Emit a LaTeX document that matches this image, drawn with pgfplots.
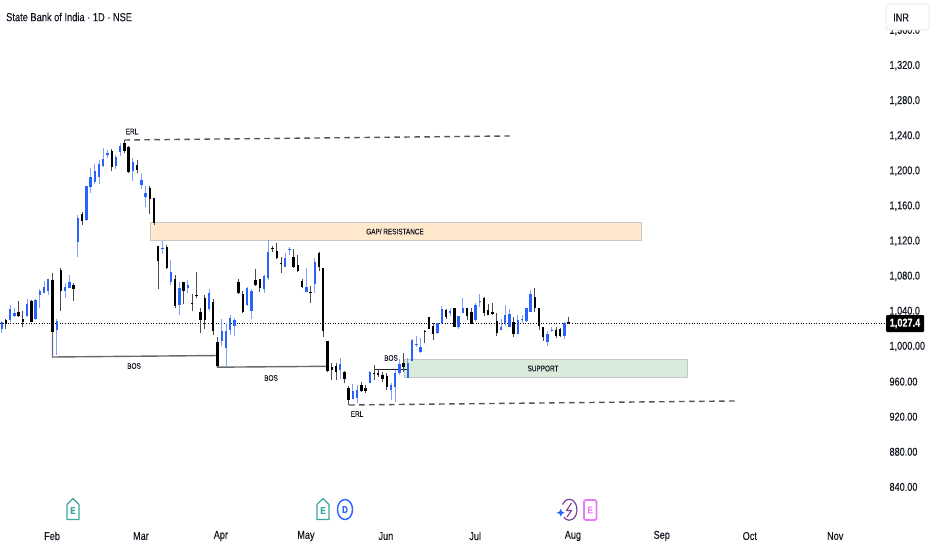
\documentclass[border=0pt]{standalone}
\usepackage{pgfplots}
\usepackage{pgfplotstable}
\usepackage{fontspec}
\pgfplotsset{compat=1.18}
\setmainfont[FakeStretch=0.8,FakeBold=0.25]{Liberation Sans}
\definecolor{tvblue}{HTML}{2962FF}
\definecolor{tvwick}{HTML}{7FA0FF}
\definecolor{tvgrey}{HTML}{555555}
\definecolor{tvbos}{HTML}{6A6A6A}
\definecolor{tvtext}{HTML}{131722}
\definecolor{gapfill}{HTML}{FFE8CB}
\definecolor{supfill}{HTML}{D9EBDB}
\pgfplotstableread{
i o h l c
0 1021 1030 1016 1028
2 1031 1048 1029 1043
3 1035 1044 1034 1039
6 1035 1055 1034 1049
8 1032 1055 1031 1054
9 1059 1066 1044 1064
10 1062 1075 1061 1068
11 1064 1078 1059 1078
13 1019 1032 991 1030
15 1064 1073 1056 1068
16 1067 1082 1067 1074
18 1120 1150.5 1102 1147.5
20 1145 1184 1144 1184
21 1182 1204 1176 1193.4
22 1188.5 1208 1186 1200.7
23 1193.4 1213 1186 1208.6
24 1206 1226.5 1205.6 1214
25 1218.5 1224.6 1215.9 1220.8
27 1206.7 1219 1203 1216
28 1222 1232 1218 1229
31 1200.7 1215.9 1189 1210.5
33 1184.7 1198 1180 1190
34 1171.4 1184 1159 1175
38 1112 1121 1105.6 1112.9
40 1073.7 1099 1070.7 1086
42 1047.9 1073.7 1036.9 1067.7
44 1067.3 1076.4 1062 1070.7
49 1043 1066 1041.4 1061
52 1007.2 1031.6 1001 1018.3
53 999.3 1027 978.7 1018.3
54 1019.4 1036.5 1013.7 1032.7
55 1024.3 1033.5 1013 1030.8
58 1047.9 1068.8 1046.8 1067.7
59 1041.4 1066 1031.6 1064.2
62 1066 1082 1061 1081.3
63 1078.3 1122 1076.4 1108
67 1091.6 1106.8 1091.6 1101
68 1111 1114.4 1105 1111.7
72 1063.1 1089.7 1062.3 1068
74 1071.8 1101 1062 1096.5
80 973.8 987.9 963.5 980.6
83 940.7 957.8 940.4 949.9
84 941.5 956.7 936.6 951
87 959.4 973 958.6 971.1
92 951 958.6 939.6 956.7
93 954 973.8 937.7 970
94 970 986 968 980.6
96 965 987 965 982
97 984.4 1008.8 984 1008
98 1002.3 1012.6 1000.4 1003.4
99 994 1009.9 993.6 1000.4
103 1015.6 1027 1014.5 1027
104 1027 1046.8 1025.9 1043.3
106 1038.4 1044 1035.4 1041
108 1023 1035.7 1020 1035
109 1039 1055.5 1038.4 1045
112 1030.8 1049.8 1028.9 1047.9
113 1051.7 1060.4 1046 1052.8
118 1019.4 1032 1019.4 1022.4
119 1027 1047.9 1024 1036.5
120 1023 1043.3 1023 1037.6
122 1014.8 1036.5 1014.5 1030.8
123 1031.2 1036.5 1027.8 1032
124 1030 1044.9 1028.9 1044
125 1040.3 1065 1040.3 1060.4
129 1006.1 1018.6 1001.5 1014.8
130 1019 1023.2 1016.7 1019.8
133 1013 1028.9 1008.8 1027.8
}\bluecandles
\pgfplotstableread{
i o h l c
1 1030.4 1032 1021 1026
4 1040 1052 1034 1035
5 1032 1041 1023 1028.5
7 1052 1054 1028 1028.5
12 1076 1084 1017.5 1017.5
14 1088 1090 1041 1064
17 1071 1073 1052 1066
19 1151 1154 1139 1144
26 1223.5 1225.7 1200.7 1205.6
29 1232 1235 1221.6 1223.5
30 1228 1229 1198.8 1199
32 1207.5 1213 1198.8 1201.8
35 1181.7 1183.6 1151.6 1168.7
36 1169.5 1169.5 1139 1141.8
37 1115 1115 1065.8 1098.4
39 1114.4 1116 1089 1089.7
41 1077 1082 1044 1047
43 1073.7 1074.5 1048.7 1064
45 1050.6 1060.4 1041.4 1049.8
46 1059.3 1085 1055.5 1057.8
47 1039.5 1045 1015.6 1030.8
48 1055.5 1059.3 1020 1030.8
50 1051.7 1054.7 1013.7 1018.6
51 1005.3 1011 977 978.7
56 1074.5 1078 1060.4 1061.2
57 1060.4 1064 1039 1039.9
60 1076.4 1088.6 1070 1070.7
61 1077.5 1078 1063 1066.9
64 1113.3 1115.5 1108 1111.7
65 1109.8 1118 1100.3 1101.9
66 1096 1102.2 1084 1095
69 1102.6 1111.7 1090.5 1091.6
70 1094 1105 1085 1086.7
71 1075.6 1078 1066.9 1068.8
73 1062.3 1070 1050.6 1061.2
75 1107.6 1108 1087 1091.6
76 1089.7 1090.5 1011.8 1018.6
77 1006.9 1007 972 973
78 977.6 981.4 962.4 973.8
79 978.4 981.4 962.4 971.9
81 971.9 973 958.6 963.5
82 952.9 955.6 933.9 939.6
85 956.7 960.5 948.3 950.2
86 952.9 956.7 948 950.2
88 970 979.5 962.4 968.9
89 970.8 974.9 966.2 967.7
90 968.1 971.9 960.5 963.2
91 967 970 951 954
95 981.4 993.6 971.9 976.8
100 1018.6 1019.4 1005 1017.5
101 1034.6 1034.6 1020 1020.5
102 1024.3 1027 1008 1014.8
105 1042.2 1043 1031.6 1034.6
107 1045 1045 1023 1023
110 1044 1045 1030.8 1035.7
111 1039.5 1044 1026 1026
114 1055.5 1056.6 1035.4 1039
115 1042 1049 1036.5 1036.5
116 1039.5 1049.8 1036.5 1038
117 1029.7 1038.4 1013 1016.4
121 1028.9 1034.6 1011.8 1014.5
126 1056.6 1066.9 1040.3 1044
127 1044 1044 1019.4 1024
128 1023 1023 1007 1011
131 1019.4 1023.2 1009.9 1012.6
132 1020.5 1022 1011.8 1012.9
134 1028.9 1034.6 1025.9 1027.4
}\blackcandles
\pgfplotsset{
  wick/.style n args={1}{forget plot,draw=none,mark=none,
    error bars/.cd,y dir=plus,y explicit,error mark=none,
    error bar style={draw=#1,line width=0.9pt}},
  body/.style n args={1}{forget plot,draw=none,mark=none,
    error bars/.cd,y dir=plus,y explicit,error mark=none,
    error bar style={draw=#1,line width=2.4pt}},
}
\begin{document}
\begin{tikzpicture}
\path[use as bounding box] (0,0) rectangle (932pt,550pt);
\begin{axis}[
  at={(0pt,25pt)},anchor=south west,
  scale only axis,width=886pt,height=525pt,
  xmin=-0.402,xmax=209.0,ymin=797.15,ymax=1395.44,
  axis line style={draw=none},major tick length=0pt,
  ticklabel pos=right,
  xticklabel pos=bottom,
  xtick={11.9,32.9,51.8,71.9,90.8,111.9,135,156,176.8,197},
  xticklabels={Feb,Mar,Apr,May,Jun,Jul,Aug,Sep,Oct,Nov},
  ytick={840,880,920,960,1000,1040,1080,1120,1160,1200,1240,1280,1320,1360},
  yticklabels={840.00,880.00,920.00,960.00,{1,000.00},{1,040.0},{1,080.0},{1,120.0},{1,160.0},{1,200.0},{1,240.0},{1,280.0},{1,320.0},{1,360.0}},
  tick label style={font=\fontsize{11.4}{13}\selectfont,text=tvtext},
  yticklabel style={yshift=0.5pt,anchor=west},
  xticklabel style={anchor=center,yshift=-11pt},
]
% zones
\addplot[forget plot,fill=gapfill,draw=black!22,line width=1pt] coordinates {(35.05,1141.9)(151.1,1141.9)(151.1,1121.4)(35.05,1121.4)} -- cycle;
\addplot[forget plot,fill=supfill,draw=black!22,line width=1pt] coordinates {(95.1,986.3)(162.2,986.3)(162.2,964.7)(95.1,964.7)} -- cycle;
% last price
\addplot[forget plot,black,line width=0.8pt,dash pattern=on 1pt off 1.6pt] coordinates {(-0.4,1027.4)(209,1027.4)};
% liquidity levels
\addplot[forget plot,tvgrey,line width=1.4pt,dash pattern=on 5.5pt off 4.5pt] coordinates {(29,1235.9)(120.2,1240.5)};
\addplot[forget plot,tvgrey,line width=1.4pt,dash pattern=on 5.5pt off 4.5pt] coordinates {(82.1,933.9)(173.3,938.5)};
\addplot[forget plot,tvgrey,line width=1pt] coordinates {(29,1235.9)(29,1231)};
% breaks of structure
\addplot[forget plot,tvbos,line width=1.4pt] coordinates {(12,1017.5)(12,988.6)(51,990.3)};
\addplot[forget plot,tvbos,line width=1.4pt] coordinates {(51,990.3)(51,977)(77,978)};
\addplot[forget plot,black!85,line width=0.8pt] coordinates {(88,979.5)(88,975)(96,975)};
% candles
\addplot[wick=tvwick] table[x=i,y=l,y error expr=\thisrow{h}-\thisrow{l}] {\bluecandles};
\addplot[wick=black!70] table[x=i,y=l,y error expr=\thisrow{h}-\thisrow{l}] {\blackcandles};
\addplot[body=tvblue] table[x=i,y=o,y error expr=\thisrow{c}-\thisrow{o}] {\bluecandles};
\addplot[body=black] table[x=i,y=c,y error expr=\thisrow{o}-\thisrow{c}] {\blackcandles};
\end{axis}
\begin{scope}[shift={(0pt,550pt)},x=1pt,y=-1pt]
\tikzset{note/.style={font=\fontsize{8}{9}\selectfont,text=tvtext,inner sep=0pt}}
\node[anchor=west,font=\fontsize{11.6}{13}\selectfont,text=tvtext,inner sep=0pt] at (6,17) {State Bank of India · 1D · NSE};
\node[note] at (395,231.5) {GAP/ RESISTANCE};
\node[note] at (543,368.5) {SUPPORT};
\node[note] at (134,366) {BOS};
\node[note] at (271,378) {BOS};
\node[note] at (391,358) {BOS};
\node[note] at (132,131.5) {ERL};
\node[note] at (357,414) {ERL};
% currency box
\draw[fill=white,draw=black!8,line width=1pt,rounded corners=3pt] (886,4) rectangle (929,30);
\node[anchor=west,font=\fontsize{11.4}{13}\selectfont,text=tvtext,inner sep=0pt] at (893,17.5) {INR};
% last price label
\fill[black,rounded corners=1pt] (886,315) rectangle (924,332);
\node[font=\bfseries\fontsize{11.4}{13}\selectfont,text=white,inner sep=0pt] at (905,323.5) {1,027.4};
% event icons
\definecolor{icteal}{HTML}{3AA6A0}
\definecolor{icpink}{HTML}{E879F9}
\definecolor{icpurple}{HTML}{7B3FA0}
\draw[icteal,line width=1.3pt,line join=round] (67,519.5) -- (67,504.5) -- (73,498.5) -- (79,504.5) -- (79,519.5) -- cycle;
\node[font=\bfseries\fontsize{10}{11}\selectfont,text=icteal,inner sep=0pt] at (73,510.5) {E};
\draw[icteal,line width=1.3pt,line join=round] (317,519.5) -- (317,504.5) -- (323,498.5) -- (329,504.5) -- (329,519.5) -- cycle;
\node[font=\bfseries\fontsize{10}{11}\selectfont,text=icteal,inner sep=0pt] at (323,510.5) {E};
\draw[tvblue,line width=1.4pt] (345,509.5) ellipse [x radius=7.5,y radius=10];
\node[font=\bfseries\fontsize{10}{11}\selectfont,text=tvblue,inner sep=0pt] at (345,509.5) {D};
\draw[icpurple,line width=1.2pt] (562.6,504.5) arc [start angle=210,end angle=495,x radius=7.7,y radius=10.5];
\draw[icpurple,line width=1.1pt,line join=round] (571.5,503) -- (566.5,510.5) -- (571.5,510.5) -- (567,517);
\fill[tvblue] (560.7,508.7) -- (561.9,511.5) -- (564.7,512.7) -- (561.9,513.9) -- (560.7,516.7) -- (559.5,513.9) -- (556.7,512.7) -- (559.5,511.5) -- cycle;
\draw[icpink,line width=1.6pt,rounded corners=1.5pt] (584,500) rectangle (596.5,520);
\node[font=\bfseries\fontsize{10}{11}\selectfont,text=icpink,inner sep=0pt] at (590.2,510) {E};
\end{scope}
\end{tikzpicture}
\end{document}
